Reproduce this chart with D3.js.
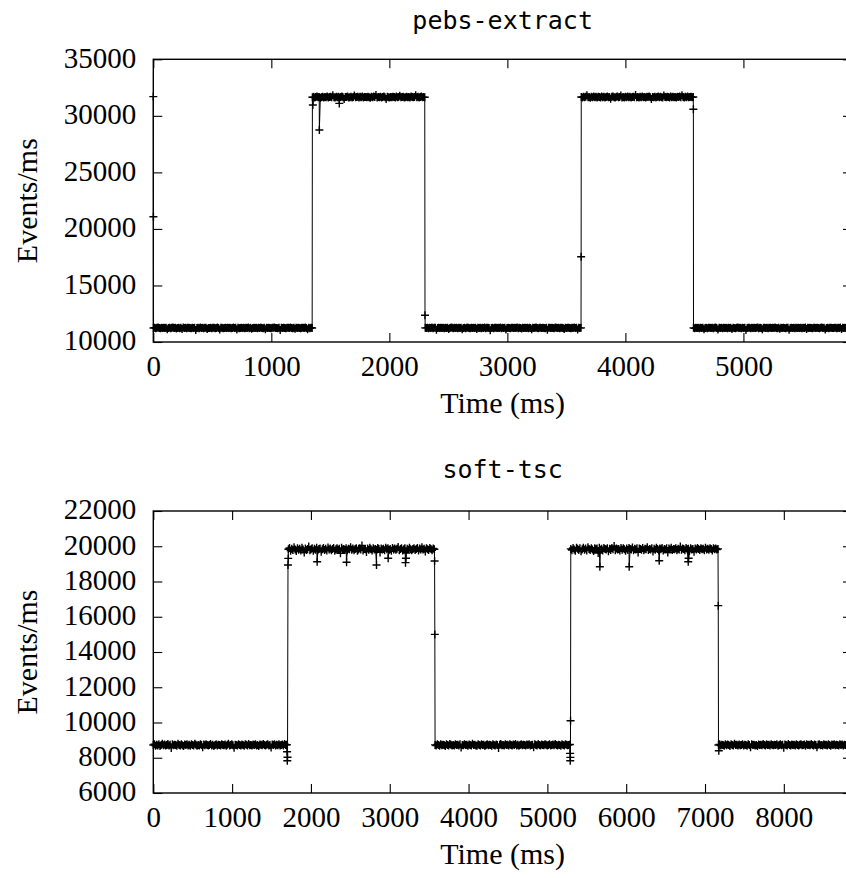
<!DOCTYPE html>
<html>
<head>
<meta charset="utf-8">
<script src="https://cdn.jsdelivr.net/npm/d3@7"></script>
<style>
  html, body { margin: 0; padding: 0; background: #fff; }
  svg { display: block; }
  .tick text { font-family: "Liberation Serif", "Times New Roman", serif; font-size: 29px; fill: #000; }
  .axis-label { font-family: "Liberation Serif", "Times New Roman", serif; font-size: 30px; fill: #000; }
  .panel-title { font-family: "DejaVu Sans Mono", monospace; font-size: 25px; fill: #000; }
</style>
</head>
<body>
<svg id="chart" width="846" height="878"></svg>
<script>
// ---------------- pebs-extract ----------------
const pebsXTicks = [0, 1000, 2000, 3000, 4000, 5000];
const pebsYTicks = [10000, 15000, 20000, 25000, 30000, 35000];
// time span (ms) covered by each steady run of samples
const pebsRunSpans = [[2, 1346], [1348, 2300], [2304, 3624], [3626, 4575], [4577, 5950]];
const pebsRunA = [
  11240, 11260, 11220, 11250, 11280, 11230, 11210, 11260, 11240, 11270,
  11230, 11250, 11120, 11240, 11270, 11220, 11260, 11290, 11230, 11250,
  11200, 11240, 11270, 11220, 11250, 11150, 11280, 11230, 11260, 11210,
  11250, 11270, 11240, 11220, 11260, 11230, 11270, 11060, 11240, 11250,
  11220, 11280, 11230, 11260, 11210, 11250, 11270, 11160, 11240, 11230,
  11270, 11220, 11250, 11260, 11210, 11240, 11280, 11230, 11110, 11250,
  11260, 11220, 11240, 11260, 11230, 11270, 11230, 11250, 11210, 11240,
  11280, 11230, 11250, 11100, 11260, 11220, 11240, 11270, 11230, 11250,
  11210, 11260, 11240, 11280, 11220, 11250, 11180, 11230, 11260, 11240,
  11270, 11220, 11250, 11230, 11290, 11240, 11210, 11260, 11130, 11250,
  11230, 11270, 11240, 11220, 11260, 11250, 11280, 11230, 11240, 11210,
  11260, 11070, 11250, 11230, 11270, 11240, 11220, 11260, 11250, 11230,
  11280, 11240, 11210, 11250, 11170, 11260, 11230, 11270, 11240, 11220,
  11250, 11260, 11230, 11280, 11240, 11120, 11250, 11220, 11260, 11240];
const pebsRunB = [
  31650, 31680, 31620, 31660, 31700, 31640, 31670, 31610, 31650, 31690,
  31630, 31670, 31650, 31700, 31620, 31660, 31680, 31640, 31820, 31650,
  31620, 31680, 31640, 31690, 31630, 31660, 31710, 31640, 31500, 31670,
  31660, 31700, 31630, 31650, 31690, 31620, 31670, 31790, 31640, 31660,
  31690, 31620, 31680, 31650, 31710, 31630, 31670, 31660, 31640, 31690,
  31650, 31610, 31680, 31640, 31700, 31660, 31840, 31630, 31670, 31650,
  31690, 31620, 31660, 31700, 31640, 31480, 31680, 31650, 31620, 31670,
  31640, 31690, 31660, 31630, 31700, 31650, 31670, 31780, 31640, 31660,
  31680, 31620, 31650, 31690, 31640, 31670, 31630, 31700, 31660, 31640,
  31670, 31810, 31650, 31690, 31630, 31660, 31700, 31640, 31670, 31650];
const pebsRunC = [
  11250, 11230, 11270, 11220, 11260, 11240, 11280, 11210, 11250, 11260,
  11090, 11240, 11260, 11230, 11270, 11240, 11250, 11220, 11260, 11240,
  11270, 11160, 11230, 11280, 11250, 11220, 11260, 11240, 11270, 11210,
  11250, 11230, 11260, 11120, 11240, 11260, 11220, 11250, 11280, 11230,
  11210, 11260, 11240, 11270, 11230, 11250, 11140, 11270, 11230, 11250,
  11220, 11260, 11240, 11280, 11220, 11250, 11270, 11230, 11050, 11240,
  11260, 11220, 11270, 11250, 11230, 11260, 11240, 11280, 11210, 11250,
  11240, 11270, 11100, 11230, 11260, 11240, 11220, 11270, 11250, 11230,
  11260, 11240, 11280, 11210, 11250, 11230, 11190, 11260, 11240, 11270,
  11230, 11250, 11220, 11270, 11240, 11130, 11260, 11230, 11250, 11280,
  11240, 11220, 11260, 11250, 11230, 11270, 11240, 11210, 11260, 11080,
  11250, 11270, 11230, 11260, 11240, 11220, 11280, 11250, 11230, 11260,
  11210, 11250, 11270, 11240, 11150, 11260, 11230, 11250, 11270, 11240,
  11220, 11260, 11240, 11280, 11230, 11250, 11110, 11260, 11240, 11250];
const pebsRunD = [
  31660, 31630, 31690, 31650, 31680, 31830, 31640, 31670, 31610, 31690,
  31650, 31700, 31640, 31680, 31620, 31690, 31660, 31630, 31720, 31650,
  31690, 31630, 31670, 31700, 31640, 31660, 31510, 31690, 31710, 31650,
  31620, 31680, 31700, 31640, 31660, 31800, 31630, 31670, 31620, 31690,
  31650, 31700, 31640, 31680, 31630, 31660, 31690, 31650, 31850, 31640,
  31670, 31620, 31690, 31650, 31700, 31640, 31670, 31630, 31680, 31660,
  31700, 31640, 31490, 31670, 31650, 31690, 31630, 31660, 31710, 31640,
  31680, 31650, 31620, 31790, 31670, 31640, 31690, 31660, 31630, 31700,
  31650, 31680, 31640, 31670, 31620, 31690, 31660, 31700, 31640, 31830,
  31660, 31630, 31680, 31650, 31700, 31640, 31670, 31690, 31650, 31660];
const pebsRunE = [
  11250, 11220, 11270, 11240, 11260, 11210, 11250, 11230, 11260, 11120,
  11240, 11270, 11220, 11250, 11260, 11230, 11260, 11210, 11250, 11280,
  11240, 11100, 11260, 11230, 11270, 11220, 11250, 11240, 11270, 11210,
  11260, 11230, 11250, 11150, 11270, 11240, 11220, 11260, 11280, 11230,
  11250, 11210, 11270, 11240, 11260, 11070, 11230, 11270, 11250, 11220,
  11260, 11240, 11270, 11230, 11250, 11280, 11210, 11260, 11240, 11130,
  11250, 11270, 11230, 11260, 11220, 11250, 11270, 11240, 11260, 11230,
  11280, 11240, 11220, 11250, 11180, 11260, 11230, 11270, 11240, 11210,
  11250, 11260, 11090, 11240, 11270, 11230, 11250, 11220, 11260, 11240,
  11270, 11230, 11250, 11210, 11260, 11240, 11280, 11140, 11250, 11230,
  11260, 11240, 11220, 11270, 11250, 11230, 11260, 11240, 11210, 11250,
  11280, 11230, 11260, 11110, 11240, 11270, 11220, 11250, 11260, 11240,
  11230, 11270, 11250, 11220, 11260, 11240, 11280, 11160, 11250, 11230,
  11260, 11240, 11270, 11230, 11250, 11210, 11260, 11240, 11080, 11250];
// isolated samples [time ms, events/ms] around the level switches
const pebsTransients = [[0, 31700], [1, 21080], [1352, 30960], [1407, 28750], [1576, 31100],
  [2302, 12360], [3625, 17540], [4576, 30580]];

// ---------------- soft-tsc ----------------
const tscXTicks = [0, 1000, 2000, 3000, 4000, 5000, 6000, 7000, 8000];
const tscYTicks = [6000, 8000, 10000, 12000, 14000, 16000, 18000, 20000, 22000];
const tscRunSpans = [[0, 1694], [1714, 3566], [3575, 5286], [5297, 7165], [7171, 8900]];
const tscRunA = [
  8720, 8770, 8680, 8740, 8700, 8760, 8670, 8730, 8790, 8710,
  8750, 8690, 8720, 8780, 8700, 8740, 8560, 8760, 8710, 8740,
  8720, 8680, 8790, 8730, 8690, 8760, 8710, 8670, 8750, 8720,
  8770, 8700, 8740, 8680, 8760, 8720, 8700, 8800, 8740, 8680,
  8730, 8690, 8770, 8720, 8590, 8750, 8710, 8760, 8730, 8690,
  8720, 8780, 8700, 8740, 8670, 8730, 8760, 8700, 8740, 8720,
  8690, 8770, 8730, 8710, 8750, 8680, 8740, 8790, 8700, 8730,
  8760, 8710, 8570, 8740, 8720, 8690, 8770, 8730, 8700, 8750,
  8720, 8680, 8760, 8740, 8700, 8780, 8710, 8730, 8690, 8750,
  8730, 8770, 8700, 8720, 8660, 8750, 8740, 8710, 8780, 8720,
  8690, 8740, 8760, 8700, 8730, 8580, 8750, 8720, 8770, 8700,
  8740, 8710, 8760, 8690, 8730, 8750, 8700, 8780, 8720, 8740];
const tscRunB = [
  19830, 19900, 19750, 19860, 19790, 19940, 19820, 19730, 19880, 19800,
  19860, 19760, 19910, 19820, 19640, 19870, 19790, 19850, 19980, 19770,
  19830, 19890, 19740, 19860, 19800, 19920, 19780, 19840, 19870, 19690,
  19830, 19900, 19790, 19860, 19760, 19930, 19820, 19870, 19780, 19850,
  19900, 19750, 19830, 19880, 19800, 19860, 19600, 19910, 19820, 19840,
  19790, 19880, 19770, 19860, 19830, 19950, 19800, 19870, 19780, 19840,
  19890, 19740, 19820, 19880, 19810, 20040, 19760, 19850, 19830, 19680,
  19870, 19800, 19910, 19830, 19760, 19880, 19820, 19850, 19790, 19900,
  19840, 19650, 19870, 19810, 19860, 19770, 19920, 19830, 19880, 19790,
  19850, 19740, 19900, 19820, 19870, 19800, 19860, 19960, 19780, 19840,
  19880, 19760, 19830, 19890, 19620, 19860, 19800, 19910, 19830, 19770,
  19850, 19880, 19790, 19840, 19900, 19760, 19870, 19820, 19940, 19810,
  19860, 19700, 19880, 19830, 19790, 19900, 19840, 19770, 19870, 19830];
const tscRunC = [
  8730, 8690, 8760, 8720, 8680, 8770, 8710, 8740, 8730, 8670,
  8760, 8720, 8700, 8780, 8740, 8700, 8730, 8690, 8770, 8720,
  8740, 8690, 8760, 8580, 8730, 8710, 8770, 8720, 8740, 8680,
  8750, 8730, 8700, 8790, 8720, 8740, 8700, 8680, 8760, 8730,
  8700, 8770, 8720, 8740, 8670, 8730, 8760, 8710, 8740, 8720,
  8680, 8770, 8730, 8700, 8750, 8720, 8560, 8740, 8780, 8710,
  8730, 8690, 8760, 8720, 8740, 8700, 8770, 8730, 8690, 8750,
  8720, 8780, 8700, 8740, 8680, 8730, 8760, 8710, 8740, 8720,
  8690, 8750, 8730, 8770, 8700, 8720, 8740, 8590, 8760, 8730,
  8700, 8780, 8720, 8690, 8750, 8730, 8710, 8770, 8740, 8700,
  8730, 8760, 8690, 8720, 8750, 8710, 8780, 8730, 8700, 8740,
  8720, 8680, 8760, 8730, 8700, 8770, 8740, 8710, 8730, 8750];
const tscRunD = [
  19850, 19780, 19900, 19820, 19740, 19920, 19860, 19790, 19880, 19720,
  19830, 19910, 19800, 19870, 19760, 19950, 19840, 19790, 19880, 19820,
  19730, 19890, 19830, 19870, 19620, 19920, 19800, 19860, 19760, 19900,
  19840, 19810, 19880, 19710, 19860, 19790, 19900, 19830, 20020, 19780,
  19870, 19810, 19850, 19760, 19900, 19800, 19880, 19830, 19740, 19870,
  19790, 19900, 19850, 19810, 19930, 19780, 19860, 19820, 19880, 19650,
  19870, 19840, 19800, 19900, 19770, 19860, 19830, 19940, 19790, 19850,
  19820, 19880, 19700, 19860, 19800, 19910, 19840, 19780, 19870, 19830,
  19900, 19760, 19850, 19820, 19880, 19640, 19870, 19810, 19920, 19790,
  19850, 19830, 19890, 19770, 19860, 19820, 19980, 19800, 19870, 19840,
  19780, 19900, 19830, 19860, 19750, 19880, 19820, 19850, 19690, 19870,
  19810, 19900, 19840, 19790, 19880, 19830, 19860, 19770, 19920, 19820,
  19860, 19800, 19880, 19840, 19760, 19890, 19830, 19870, 19810, 19850];
const tscRunE = [
  8720, 8760, 8690, 8740, 8730, 8680, 8770, 8710, 8750, 8720,
  8670, 8760, 8730, 8700, 8790, 8720, 8740, 8690, 8750, 8710,
  8730, 8770, 8700, 8740, 8720, 8680, 8760, 8730, 8590, 8770,
  8720, 8740, 8700, 8730, 8660, 8750, 8720, 8740, 8710, 8780,
  8730, 8690, 8760, 8720, 8740, 8700, 8770, 8730, 8710, 8740,
  8720, 8760, 8680, 8730, 8770, 8710, 8740, 8570, 8750, 8720,
  8700, 8780, 8730, 8690, 8750, 8720, 8740, 8700, 8760, 8730,
  8690, 8740, 8770, 8710, 8730, 8750, 8680, 8760, 8720, 8740,
  8710, 8780, 8730, 8700, 8750, 8720, 8600, 8740, 8760, 8710,
  8730, 8690, 8770, 8720, 8740, 8700, 8760, 8730, 8680, 8750,
  8720, 8770, 8710, 8740, 8730, 8690, 8760, 8720, 8750, 8700,
  8740, 8720, 8780, 8690, 8730, 8750, 8710, 8740, 8720, 8760];
const tscTransients = [[1697, 8340], [1700, 7830], [1703, 8025], [1709, 18940], [1712, 19310],
  [2079, 19120], [2452, 19090], [2832, 18940], [2980, 19320], [3200, 19070], [3206, 19320],
  [3569, 19160], [3572, 15000],
  [5288, 8250], [5290, 7830], [5292, 8020], [5294, 10100],
  [5666, 18840], [6038, 18840], [6419, 19180], [6787, 19120], [6792, 19320],
  [7168, 16630], [7175, 8400]];

// ---------------- drawing ----------------
const svg = d3.select("#chart");
const plotLeft = 153.3, plotRight = 852, tickLen = 9;

// merge the steady runs (evenly spaced over their span) with the isolated samples
function samples(runs, spans, extra) {
  const pts = [];
  runs.forEach((vals, k) => {
    const [a, b] = spans[k];
    vals.forEach((v, i) => pts.push([a + (b - a) * i / (vals.length - 1), v]));
  });
  extra.forEach(p => pts.push(p));
  return pts.sort((p, q) => p[0] - q[0]);
}

function panel(o) {
  const x = d3.scaleLinear().domain([0, o.xMax]).range([plotLeft, plotRight]);
  const y = d3.scaleLinear().domain(o.yDomain).range([o.bottom, o.top]);
  const g = svg.append("g");
  const fmt = d3.format("d");

  // inward ticks on all four sides, labels on the bottom and left only
  const ax = [
    g.append("g").attr("transform", `translate(0,${o.bottom})`)
      .call(d3.axisBottom(x).tickValues(o.xTicks).tickSize(-tickLen).tickPadding(13).tickFormat(fmt)),
    g.append("g").attr("transform", `translate(0,${o.top})`)
      .call(d3.axisTop(x).tickValues(o.xTicks).tickSize(-tickLen).tickFormat("")),
    g.append("g").attr("transform", `translate(${plotLeft},0)`)
      .call(d3.axisLeft(y).tickValues(o.yTicks).tickSize(-tickLen).tickPadding(17).tickFormat(fmt)),
    g.append("g").attr("transform", `translate(${plotRight},0)`)
      .call(d3.axisRight(y).tickValues(o.yTicks).tickSize(-tickLen).tickFormat(""))
  ];
  ax.forEach(a => {
    a.select(".domain").remove();
    a.selectAll(".tick line").attr("stroke", "#000").attr("stroke-width", 1.1);
  });
  ax[2].selectAll(".tick text").attr("dy", "0.27em");

  g.append("rect")
    .attr("x", plotLeft).attr("y", o.top)
    .attr("width", plotRight - plotLeft).attr("height", o.bottom - o.top)
    .attr("fill", "none").attr("stroke", "#000").attr("stroke-width", 1.4);

  const pts = o.points;
  g.append("path")
    .attr("d", d3.line().x(d => x(d[0])).y(d => y(d[1]))(pts))
    .attr("fill", "none").attr("stroke", "#000").attr("stroke-width", 1);

  // "+" point markers
  const arm = 4;
  const marks = pts.map(d => {
    const px = x(d[0]), py = y(d[1]);
    return `M${px - arm},${py}h${2 * arm}M${px},${py - arm}v${2 * arm}`;
  }).join("");
  g.append("path").attr("d", marks).attr("fill", "none").attr("stroke", "#000").attr("stroke-width", 1.4);

  const cx = (plotLeft + plotRight) / 2;
  g.append("text").attr("class", "panel-title")
    .attr("x", cx).attr("y", o.titleY).attr("text-anchor", "middle").text(o.title);
  g.append("text").attr("class", "axis-label")
    .attr("x", cx).attr("y", o.bottom + 71).attr("text-anchor", "middle").text("Time (ms)");
  g.append("text").attr("class", "axis-label")
    .attr("transform", `translate(37,${(o.top + o.bottom) / 2}) rotate(-90)`)
    .attr("text-anchor", "middle").text("Events/ms");
}

panel({
  title: "pebs-extract", titleY: 28.5,
  top: 59.3, bottom: 342, xMax: 5920, yDomain: [10000, 35000],
  xTicks: pebsXTicks, yTicks: pebsYTicks,
  points: samples([pebsRunA, pebsRunB, pebsRunC, pebsRunD, pebsRunE], pebsRunSpans, pebsTransients)
});

panel({
  title: "soft-tsc", titleY: 478,
  top: 511, bottom: 793, xMax: 8865, yDomain: [6000, 22000],
  xTicks: tscXTicks, yTicks: tscYTicks,
  points: samples([tscRunA, tscRunB, tscRunC, tscRunD, tscRunE], tscRunSpans, tscTransients)
});
</script>
</body>
</html>
